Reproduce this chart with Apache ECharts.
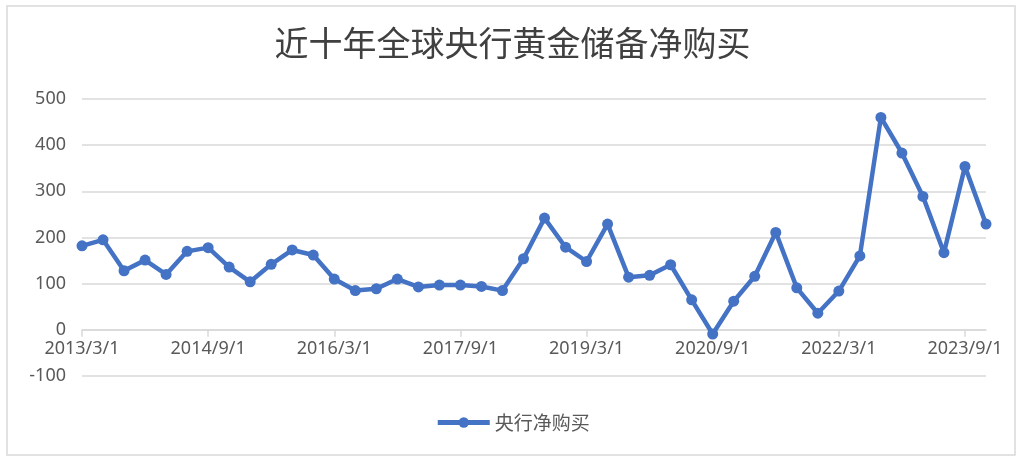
<!DOCTYPE html>
<html>
<head>
<meta charset="utf-8">
<script src="https://cdn.jsdelivr.net/npm/echarts@6/dist/echarts.min.js"></script>
<style>
html,body{margin:0;padding:0;background:#fff;}
#chart{width:1025px;height:468px;}
</style>
</head>
<body>
<div id="chart"></div>
<script>
const titleText = '近十年全球央行黄金储备净购买';
const seriesName = '央行净购买';
const categories = [
  '2013/3/1','2013/6/1','2013/9/1','2013/12/1',
  '2014/3/1','2014/6/1','2014/9/1','2014/12/1',
  '2015/3/1','2015/6/1','2015/9/1','2015/12/1',
  '2016/3/1','2016/6/1','2016/9/1','2016/12/1',
  '2017/3/1','2017/6/1','2017/9/1','2017/12/1',
  '2018/3/1','2018/6/1','2018/9/1','2018/12/1',
  '2019/3/1','2019/6/1','2019/9/1','2019/12/1',
  '2020/3/1','2020/6/1','2020/9/1','2020/12/1',
  '2021/3/1','2021/6/1','2021/9/1','2021/12/1',
  '2022/3/1','2022/6/1','2022/9/1','2022/12/1',
  '2023/3/1','2023/6/1','2023/9/1','2023/12/1'
];
const netPurchases = [
  182, 195, 128, 151, 120, 170, 178, 136,
  104, 142, 173, 162, 110, 85, 89, 110,
  93, 97, 97, 94, 85, 154, 242, 179,
  148, 229, 114, 118, 141, 65, -9, 62,
  116, 211, 91, 36, 84, 160, 460, 383,
  289, 167, 354, 229
];
const yTicks = { min: -100, max: 500, interval: 100 };

const gridTop = 99, gridBottom = 92, chartH = 468;
const plotH = chartH - gridTop - gridBottom;
const zeroOffset = plotH * (0 - yTicks.min) / (yTicks.max - yTicks.min);

const chart = echarts.init(document.getElementById('chart'));
chart.setOption({
  backgroundColor: '#ffffff',
  animation: false,
  graphic: [{
    type: 'rect',
    shape: { x: 7, y: 6, width: 1008, height: 449 },
    style: { fill: 'none', stroke: '#d9d9d9', lineWidth: 1.5 },
    silent: true
  }],
  title: {
    text: titleText,
    left: 'center',
    top: 21,
    textStyle: {
      fontFamily: 'Noto Sans CJK SC',
      fontSize: 34,
      fontWeight: 'normal',
      color: '#404040'
    }
  },
  legend: {
    data: [seriesName],
    bottom: 31,
    left: 'center',
    itemWidth: 52,
    itemHeight: 13,
    itemGap: 8,
    lineStyle: { width: 5 },
    textStyle: {
      fontFamily: 'Noto Sans CJK SC',
      fontSize: 19,
      color: '#595959'
    }
  },
  grid: {
    left: 82,
    right: 39,
    top: gridTop,
    bottom: gridBottom,
    containLabel: false
  },
  xAxis: {
    type: 'category',
    data: categories,
    boundaryGap: false,
    position: 'bottom',
    offset: -zeroOffset,
    axisLine: { show: true, onZero: false, lineStyle: { color: '#d9d9d9', width: 1.5 } },
    axisTick: { show: true, interval: 5, length: 7, lineStyle: { color: '#d9d9d9', width: 1.5 } },
    axisLabel: {
      interval: 5,
      margin: 10,
      fontFamily: 'Noto Sans',
      fontSize: 18,
      color: '#595959'
    },
    splitLine: { show: false }
  },
  yAxis: {
    type: 'value',
    min: yTicks.min,
    max: yTicks.max,
    interval: yTicks.interval,
    axisLine: { show: false },
    axisTick: { show: false },
    axisLabel: {
      margin: 16,
      fontFamily: 'Noto Sans',
      fontSize: 18,
      color: '#595959'
    },
    splitLine: { lineStyle: { color: '#d9d9d9', width: 1.5 } }
  },
  series: [{
    name: seriesName,
    type: 'line',
    data: netPurchases,
    symbol: 'circle',
    symbolSize: 11,
    showAllSymbol: true,
    itemStyle: { color: '#4472C4' },
    lineStyle: { color: '#4472C4', width: 4.5 }
  }]
});
</script>
</body>
</html>
